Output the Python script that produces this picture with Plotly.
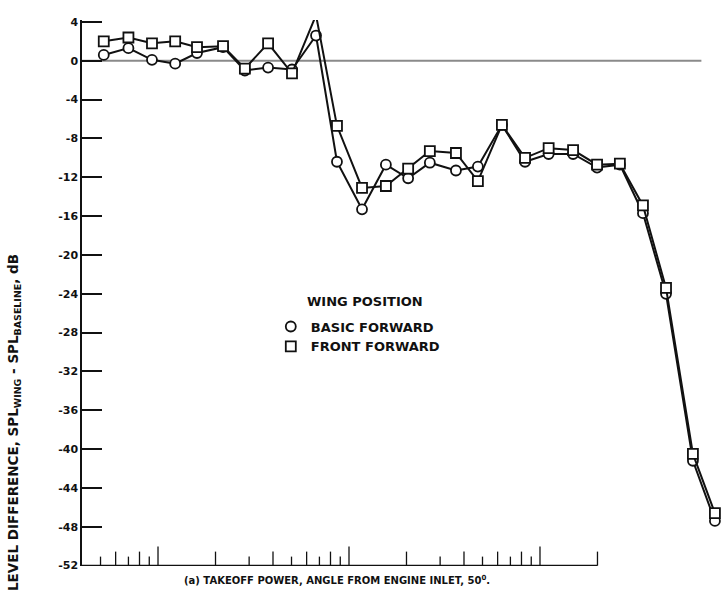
import plotly.graph_objects as go

# One-third-octave band centre frequencies (Hz) on a log axis
freq = [52, 70, 93, 123, 160, 219, 285, 377, 503, 672, 865, 1170, 1560, 2040,
        2650, 3630, 4730, 6320, 8350, 11100, 14900, 19900, 26200, 34600,
        45700, 63200, 82400]

# Level difference SPL_wing - SPL_baseline, dB
basic_forward = [0.6, 1.3, 0.1, -0.3, 0.8, 1.4, -1.0, -0.7, -0.9, 2.6, -10.4,
                 -15.3, -10.7, -12.1, -10.5, -11.3, -10.9, -6.6, -10.4, -9.6,
                 -9.6, -11.0, -10.7, -15.7, -24.0, -41.2, -47.4]
front_forward = [2.0, 2.4, 1.8, 2.0, 1.4, 1.5, -0.8, 1.8, -1.3, 4.7, -6.7,
                 -13.1, -12.9, -11.1, -9.3, -9.5, -12.4, -6.6, -10.0, -9.0,
                 -9.2, -10.7, -10.6, -14.9, -23.4, -40.5, -46.6]

y_ticks = [4, 0, -4, -8, -12, -16, -20, -24, -28, -32, -36, -40, -44, -48, -52]

# Log-cycle tick marks along the frequency axis
decade_ticks = [100, 1000, 10000]
even_ticks = [60, 80, 200, 400, 600, 800, 2000, 4000, 6000, 8000, 20000]
odd_ticks = [50, 70, 90, 300, 500, 700, 900, 3000, 5000, 7000, 9000]

FONT = "DejaVu Sans, sans-serif"
INK = "#111111"

fig = go.Figure()

fig.add_trace(go.Scatter(
    x=freq, y=basic_forward, mode="lines+markers", name="BASIC FORWARD",
    line=dict(color=INK, width=2), cliponaxis=False,
    marker=dict(symbol="circle", size=10, color="white",
                line=dict(color=INK, width=1.8)),
    showlegend=False,
))
fig.add_trace(go.Scatter(
    x=freq, y=front_forward, mode="lines+markers", name="FRONT FORWARD",
    line=dict(color=INK, width=2), cliponaxis=False,
    marker=dict(symbol="square", size=10, color="white",
                line=dict(color=INK, width=1.8)),
    showlegend=False,
))

# Legend entries show the symbol only
for nm, sym in [("BASIC FORWARD", "circle"), ("FRONT FORWARD", "square")]:
    fig.add_trace(go.Scatter(
        x=[None], y=[None], mode="markers", name="<b>" + nm + "</b>",
        marker=dict(symbol=sym, size=10, color="white",
                    line=dict(color=INK, width=1.8)),
    ))

shapes = []
# zero reference line
shapes.append(dict(type="line", xref="x", yref="y", x0=40, x1=70000, y0=0, y1=0,
                   line=dict(color="#8a8a8a", width=2), layer="below"))
# bottom axis line
shapes.append(dict(type="line", xref="x", yref="y", x0=40, x1=20000, y0=-52, y1=-52,
                   line=dict(color=INK, width=1.5)))
for vals, ln in [(decade_ticks, 19), (even_ticks, 14), (odd_ticks, 9)]:
    for v in vals:
        shapes.append(dict(type="line", xref="x", yref="y", ysizemode="pixel",
                           yanchor=-52, x0=v, x1=v, y0=0, y1=ln,
                           line=dict(color=INK, width=1.3)))

fig.update_layout(
    width=722, height=601,
    margin=dict(l=82, r=0, t=20, b=35),
    paper_bgcolor="white", plot_bgcolor="white",
    font=dict(family=FONT, size=12, color=INK),
    shapes=shapes,
    showlegend=True,
    legend=dict(x=0.295, y=0.466, xanchor="left", yanchor="top",
                bgcolor="rgba(0,0,0,0)", borderwidth=0,
                font=dict(family=FONT, size=13, color=INK),
                itemwidth=30, tracegroupgap=0),
    annotations=[
        dict(text="<b>WING POSITION</b>", xref="paper", yref="paper",
             x=(365 - 82) / 640, y=(566 - 302) / 546, showarrow=False,
             xanchor="center", yanchor="middle",
             font=dict(family=FONT, size=13, color=INK)),
        dict(text="<b>LEVEL DIFFERENCE, SPL<sub>WING</sub> - SPL<sub>BASELINE</sub>, dB</b>",
             xref="paper", yref="paper", x=(14 - 82) / 640, y=(566 - 423) / 546,
             textangle=-90, showarrow=False, xanchor="center", yanchor="middle",
             font=dict(family=FONT, size=13.5, color=INK)),
        dict(text="<b>(a) TAKEOFF POWER, ANGLE FROM ENGINE INLET, 50<sup>0</sup>.</b>",
             xref="paper", yref="paper", x=(337 - 82) / 640, y=-14 / 546,
             showarrow=False, xanchor="center", yanchor="middle",
             font=dict(family=FONT, size=10, color=INK)),
    ],
)

fig.update_xaxes(type="log", range=[1.602, 4.953], showgrid=False, zeroline=False,
                 showline=False, showticklabels=False, ticks="")
fig.update_yaxes(range=[-52.04, 4.2], tickmode="array", tickvals=y_ticks,
                 ticktext=["<b>%d</b>" % v for v in y_ticks], ticks="inside", ticklen=20,
                 tickwidth=1.5, tickcolor=INK, showline=True, linecolor=INK,
                 linewidth=1.5, showgrid=False, zeroline=False,
                 tickfont=dict(family=FONT, size=11, color=INK))

fig.write_html("out.html")
